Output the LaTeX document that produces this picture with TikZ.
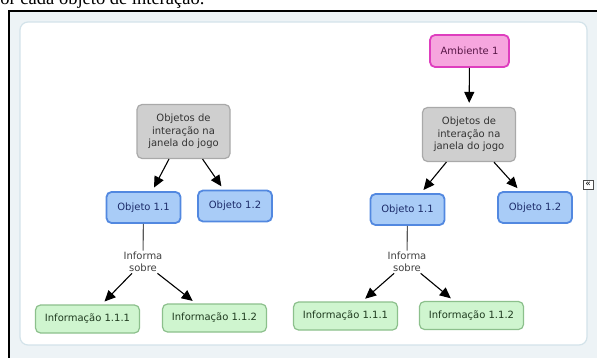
\documentclass[tikz,border=0pt]{standalone}
\usepackage{fontspec}
\setmainfont{DejaVu Sans}
\newfontfamily\captionserif{Liberation Serif}
\usetikzlibrary{arrows.meta}

\definecolor{pagebg}{HTML}{EDF3F6}
\definecolor{panelrim}{HTML}{D3E3EA}
\definecolor{grayfill}{HTML}{CFCFCF}
\definecolor{grayrim}{HTML}{A9A9A9}
\definecolor{bluefill}{HTML}{A9CCF7}
\definecolor{bluerim}{HTML}{5288E0}
\definecolor{bluetext}{HTML}{1D2C6A}
\definecolor{greenfill}{HTML}{CFF5CF}
\definecolor{greenrim}{HTML}{8CC08C}
\definecolor{greentext}{HTML}{1F3A1F}
\definecolor{pinkfill}{HTML}{F6A6DE}
\definecolor{pinkrim}{HTML}{DE3EBE}
\definecolor{pinktext}{HTML}{581646}

\begin{document}
\begin{tikzpicture}[x=1pt,y=-1pt]
	\tikzstyle{every node}+=[font=\fontsize{10}{12.5}\selectfont]
	\tikzstyle{concept}=[rounded corners=5pt, align=center, inner sep=2pt]
	\tikzstyle{grupo}=[concept, draw=grayrim, fill=grayfill, line width=1.2pt, text=black!80, minimum width=93pt, minimum height=54pt]
	\tikzstyle{objeto}=[concept, draw=bluerim, fill=bluefill, line width=1.8pt, text=bluetext, minimum width=74pt, minimum height=31pt]
	\tikzstyle{info}=[concept, draw=greenrim, fill=greenfill, line width=1.2pt, text=greentext, minimum width=104pt, minimum height=28pt]
	\tikzstyle{ambiente}=[concept, draw=pinkrim, fill=pinkfill, line width=1.8pt, text=pinktext, minimum width=79pt, minimum height=32pt]
	\tikzstyle{ligacao}=[align=center, text=black!75, inner sep=1pt]
	\tikzstyle{seta}=[line width=1.1pt, -{Triangle[length=11pt,width=10pt]}, shorten >=4pt]
	\tikzstyle{traco}=[line width=1.1pt, draw=black!65]

	\useasboundingbox (0,0) rectangle (597,358);
	\clip (0,0) rectangle (597,358);
	\fill[pagebg] (9,11) rectangle (600,360);
	\draw[line width=2pt] (9,362) -- (9,11) -- (600,11);
	\draw[panelrim, fill=white, line width=1.2pt, rounded corners=8pt] (20,22) rectangle (587,345);
	\node[anchor=base west, inner sep=0pt, font=\captionserif\fontsize{18.5}{18.5}\selectfont] (legenda) at (-9,5) {por cada objeto de interação.};
	\node[draw=black!70, fill=white, inner sep=0.8pt, minimum width=10pt, minimum height=9pt, font=\fontsize{9}{9}\selectfont] (recolher) at (588,184.5) {«};

	\node[grupo] (grupoA) at (183.5,131.5) {Objetos de\\interação na\\janela do jogo};
	\node[objeto] (objA1) at (143.5,207.5) {Objeto 1.1};
	\node[objeto] (objA2) at (235,206) {Objeto 1.2};
	\node[ligacao] (infoA) at (143,262) {Informa\\sobre};
	\node[info] (infA1) at (87.5,319) {Informação 1.1.1};
	\node[info] (infA2) at (214.5,318) {Informação 1.1.2};

	\node[ambiente] (amb) at (469.5,51) {Ambiente 1};
	\node[grupo] (grupoB) at (469,134.5) {Objetos de\\interação na\\janela do jogo};
	\node[objeto] (objB1) at (407.5,209.5) {Objeto 1.1};
	\node[objeto] (objB2) at (535,207.5) {Objeto 1.2};
	\node[ligacao] (infoB) at (407,262) {Informa\\sobre};
	\node[info] (infB1) at (345.5,316) {Informação 1.1.1};
	\node[info] (infB2) at (471.5,315.5) {Informação 1.1.2};

	\draw[seta] (grupoA) -- (objA1);
	\draw[seta] (grupoA) -- (objA2);
	\draw[traco] (objA1) -- (infoA);
	\draw[seta] (infoA) -- (infA1);
	\draw[seta] (infoA) -- (infA2);

	\draw[seta] (amb) -- (grupoB);
	\draw[seta] (grupoB) -- (objB1);
	\draw[seta] (grupoB) -- (objB2);
	\draw[traco] (objB1) -- (infoB);
	\draw[seta] (infoB) -- (infB1);
	\draw[seta] (infoB) -- (infB2);
\end{tikzpicture}
\end{document}
